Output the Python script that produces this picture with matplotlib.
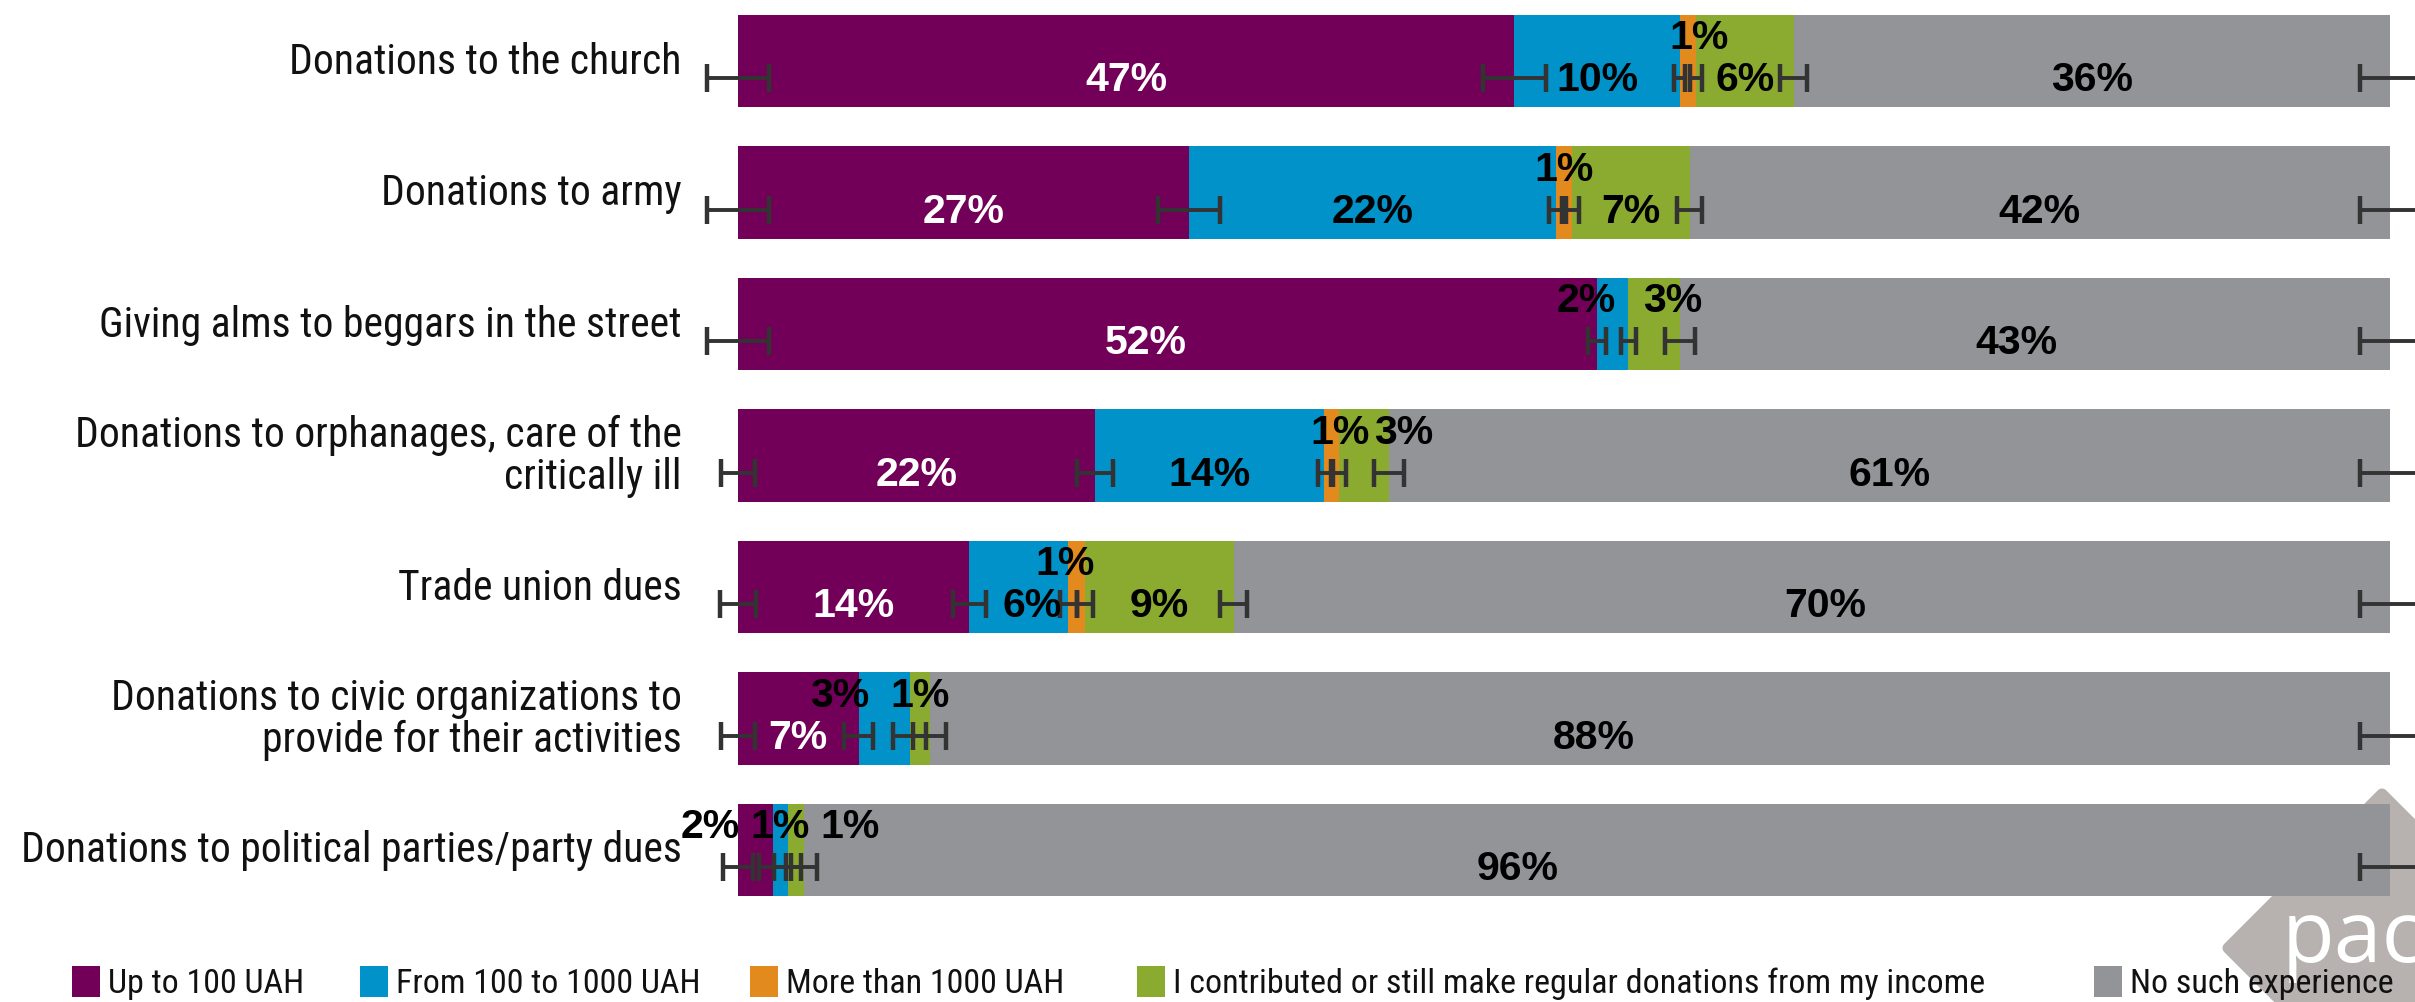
import matplotlib
matplotlib.use("Agg")
import matplotlib.pyplot as plt
from matplotlib import font_manager as fm
from matplotlib.patches import Rectangle, Polygon
import numpy as np

# ---- data -------------------------------------------------------------
categories = [
    "Donations to the church",
    "Donations to army",
    "Giving alms to beggars in the street",
    "Donations to orphanages, care of the\ncritically ill",
    "Trade union dues",
    "Donations to civic organizations to\nprovide for their activities",
    "Donations to political parties/party dues",
]
series = [
    "Up to 100 UAH",
    "From 100 to 1000 UAH",
    "More than 1000 UAH",
    "I contributed or still make regular donations from my income",
    "No such experience",
]
up_to_100 = [47.0, 27.3, 52.0, 21.6, 14.0, 7.3, 2.1]
from_100_to_1000 = [10.0, 22.2, 1.9, 13.9, 6.0, 3.1, 0.9]
more_than_1000 = [1.0, 1.0, 0.0, 0.9, 1.0, 0.0, 0.0]
regular_income = [5.9, 7.1, 3.1, 3.0, 9.0, 1.2, 1.0]
no_experience = [36.1, 42.4, 43.0, 60.6, 70.0, 88.4, 96.0]

# error margins (+/- points): at bar start, then at the end of each segment
err_start = [1.9, 1.9, 1.9, 1.0, 1.1, 1.0, 0.9]
err_up_to_100 = [1.9, 1.9, 0.55, 1.1, 1.0, 0.9, 0.8]
err_100_1000 = [0.35, 0.4, 0.45, 0.4, 0.5, 1.0, 0.8]
err_more_1000 = [0.35, 0.4, np.nan, 0.4, 0.5, np.nan, np.nan]
err_regular = [0.8, 0.75, 0.9, 0.9, 0.8, 1.0, 0.8]
err_no_exp = [1.8, 1.8, 1.8, 1.8, 1.8, 1.8, 1.8]

colors = ["#730058", "#0092C8", "#E38A1F", "#8AAB2F", "#939498"]

# hand nudges for value labels (row, segment) -> shift in points of %
label_nudge = {
    (0, 2): 0.7,
    (2, 0): -1.3, (2, 1): -1.6, (2, 3): 1.15, (2, 4): -1.1,
    (3, 2): 0.5, (3, 3): 2.4,
    (4, 1): 0.8, (4, 2): -0.7, (4, 4): 0.8,
    (5, 1): -2.7, (5, 4): -4.0,
    (6, 0): -2.7, (6, 3): 3.3, (6, 4): -4.8,
}


def pick(*names):
    avail = {f.name for f in fm.fontManager.ttflist}
    for n in names:
        if n in avail:
            return n
    return "DejaVu Sans"


NARROW = pick("Liberation Sans Narrow", "Roboto Condensed", "Liberation Sans")
BOLD = pick("Liberation Sans", "Roboto", "DejaVu Sans")
LOGO = pick("Open Sans", "Lato", "DejaVu Sans")

W, H = 2415, 1003
fig = plt.figure(figsize=(W / 100, H / 100), dpi=100)
ax = fig.add_axes([0, 0, 1, 1])
ax.patch.set_alpha(0)
ax.set_axis_off()

px_per_pct = 16.52
x0_px = 738
row_px = 131.5
top_px = 62
ax.set_xlim(-x0_px / px_per_pct, (W - x0_px) / px_per_pct)
ax.set_ylim((H - top_px) / row_px, -top_px / row_px)

segments = [up_to_100, from_100_to_1000, more_than_1000, regular_income, no_experience]
seg_err = [err_up_to_100, err_100_1000, err_more_1000, err_regular, err_no_exp]
y = np.arange(len(categories))
left = np.zeros(len(categories))

bar_h = 0.707
err_dy = 0.13
main_dy = 0.14
small_dy = -0.18

for s, (vals, col) in enumerate(zip(segments, colors)):
    vals = np.array(vals)
    ax.barh(y, vals, left=left, height=bar_h, color=col, zorder=2)
    for i, v in enumerate(vals):
        if v <= 0:
            continue
        xc = left[i] + v / 2 + label_nudge.get((i, s), 0)
        small = v < 4
        yy = y[i] + (small_dy if small else main_dy)
        tc = "white" if (s == 0 and not small) else "black"
        ax.text(xc, yy, f"{round(v):.0f}%", ha="center", va="center",
                fontsize=29.5, fontweight="bold", family=BOLD, color=tc, zorder=5)
    left = left + vals

# error bars at the start and at each segment end
ends = np.cumsum(np.array(segments), axis=0)
ex = [np.zeros(len(categories))] + list(ends)
ee = [err_start] + seg_err
for k in range(len(ex)):
    xs = np.array(ex[k])
    es = np.array(ee[k], dtype=float)
    ok = ~np.isnan(es)
    if 1 <= k <= 4:
        ok &= np.array(segments[k - 1]) > 0
    ax.errorbar(xs[ok], y[ok] + err_dy, xerr=es[ok], fmt="none",
                ecolor="#333333", elinewidth=2.8, capsize=10, capthick=3.2,
                zorder=4, clip_on=False)

# category labels
for i, cat in enumerate(categories):
    ax.text(-3.4, y[i], cat, ha="right", va="center", ma="right",
            fontsize=30, family=NARROW, color="#111111", linespacing=1.05)

# pact logo (behind everything)
logo_pts = [(2382, 795), (2228, 949), (2292, 1013), (2470, 1013), (2470, 883)]
logo = Polygon([(px / W, 1 - py / H) for px, py in logo_pts], closed=True,
               transform=fig.transFigure, facecolor="#B7B2AF",
               edgecolor="#B7B2AF", linewidth=8, joinstyle="round", zorder=-2)
fig.patches.append(logo)
fig.text(2282 / W, 1 - 962 / H, "pact", fontsize=62, family=LOGO, color="white",
         ha="left", va="baseline", zorder=-1)

# legend
leg_x = [72, 360, 750, 1137, 2094]
for lx, name, col in zip(leg_x, series, colors):
    fig.patches.append(Rectangle((lx / W, 1 - 998 / H), 28 / W, 31 / H,
                                 transform=fig.transFigure, facecolor=col,
                                 edgecolor="none", zorder=3))
    fig.text((lx + 36) / W, 1 - 993 / H, name, fontsize=24.5, family=NARROW,
             color="#111111", ha="left", va="baseline", zorder=3)

fig.savefig("out.png", dpi=100)
